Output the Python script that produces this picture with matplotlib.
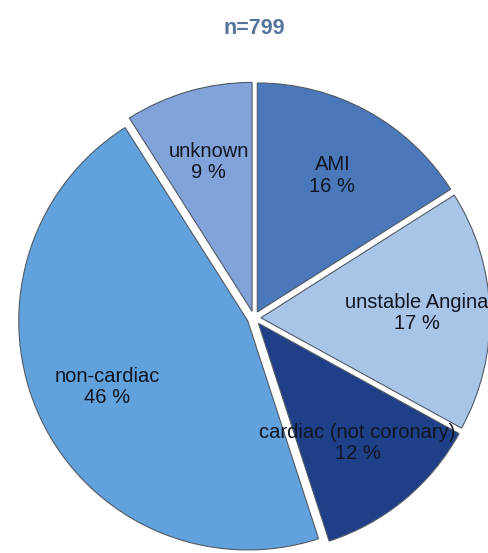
import matplotlib
matplotlib.use('agg')
import matplotlib.pyplot as plt

# data (clockwise from 12 o'clock)
categories = ["AMI", "unstable Angina", "cardiac (not coronary)", "non-cardiac", "unknown"]
percents = [16, 17, 12, 46, 9]
colors = ["#4a78ba", "#a8c5e8", "#1f4088", "#62a2dc", "#82a3da"]
title = "n=799"

plt.rcParams['font.family'] = ['Liberation Sans', 'DejaVu Sans']

fig = plt.figure(figsize=(4.89, 5.53), dpi=100)
ax = fig.add_axes([0, 0, 1, 1])

labels = [f"{c}\n{p} %" for c, p in zip(categories, percents)]
wedges, texts = ax.pie(
    percents, labels=labels, colors=colors, startangle=90, counterclock=False,
    explode=[0.03] * len(percents), labeldistance=0.68,
    wedgeprops=dict(edgecolor="#505a66", linewidth=0.8),
    textprops=dict(fontsize=14.5, color="#111622", ha="center", va="center",
                   multialignment="center", linespacing=1.15))

# place the pie like in the reference (center ~ (254, 318) px, radius ~ 229 px)
scale = 229.
cx, cy = 254., 318.
ax.set_xlim(-cx / scale, (489 - cx) / scale)
ax.set_ylim(-(553 - cy) / scale, cy / scale)
ax.set_aspect('equal', adjustable='datalim')
ax.axis('off')

ax.text(0.0, (cy - 29) / scale, title, ha="center", va="center",
        fontsize=15.5, fontweight="bold", color="#55749c")

fig.savefig("out.png", dpi=100)
